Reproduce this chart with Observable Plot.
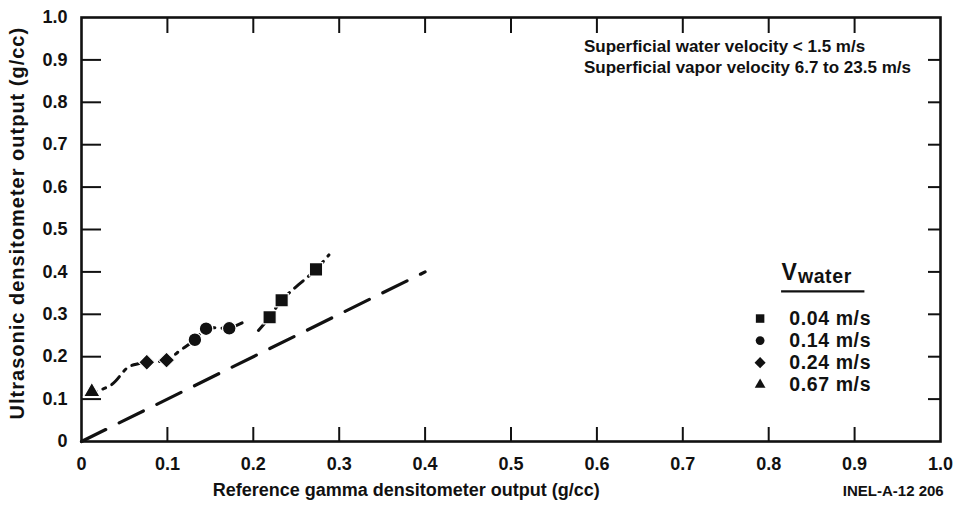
<!DOCTYPE html>
<html>
<head>
<meta charset="utf-8">
<script src="https://cdn.jsdelivr.net/npm/d3@7"></script>
<script src="https://cdn.jsdelivr.net/npm/@observablehq/plot@0.6"></script>
<style>
  html, body { margin: 0; padding: 0; background: #fff; }
  svg { display: block; }
  .spaced text { letter-spacing: 1px; }
  .spaced2 text { letter-spacing: 0.6px; }
</style>
</head>
<body>
<div id="chart"></div>
<script>
// ---- data ----
const xTicks = [0, 0.1, 0.2, 0.3, 0.4, 0.5, 0.6, 0.7, 0.8, 0.9, 1.0];
const yTicks = [0, 0.1, 0.2, 0.3, 0.4, 0.5, 0.6, 0.7, 0.8, 0.9, 1.0];

const seriesNames = ["0.04 m/s", "0.14 m/s", "0.24 m/s", "0.67 m/s"];
const seriesSymbols = ["square", "circle", "diamond2", "triangle"];

const sq_x = [0.219, 0.233, 0.273];
const sq_y = [0.293, 0.333, 0.406];
const ci_x = [0.132, 0.145, 0.172];
const ci_y = [0.240, 0.266, 0.267];
const di_x = [0.076, 0.099];
const di_y = [0.187, 0.192];
const tr_x = [0.012];
const tr_y = [0.117];

// fitted dash-dot curves
const fitLow_x = [0.005, 0.035, 0.055, 0.076, 0.099, 0.115, 0.132, 0.145, 0.172, 0.19];
const fitLow_y = [0.110, 0.134, 0.176, 0.187, 0.192, 0.215, 0.240, 0.266, 0.268, 0.283];
const fitHigh_x = [0.206, 0.219, 0.233, 0.273, 0.288];
const fitHigh_y = [0.262, 0.293, 0.333, 0.406, 0.440];

// reference line y = x
const ref_x = [0, 0.4];
const ref_y = [0, 0.4];

const noteLines = ["Superficial water velocity < 1.5 m/s", "Superficial vapor velocity 6.7 to 23.5 m/s"];
const xLabel = "Reference gamma densitometer output (g/cc)";
const yLabel = "Ultrasonic densitometer output (g/cc)";
const figId = "INEL-A-12 206";

// ---- build ----
const symR = {square: 7.5, circle: 6.8, diamond2: 7.3, triangle: 6.2};
const legR = {square: 4.8, circle: 4.4, diamond2: 5, triangle: 4};
const pts = [];
[[sq_x, sq_y], [ci_x, ci_y], [di_x, di_y], [tr_x, tr_y]].forEach(([xs, ys], i) => {
  xs.forEach((x, j) => pts.push({x, y: ys[j], s: seriesSymbols[i]}));
});
const fitLow = fitLow_x.map((x, i) => ({x, y: fitLow_y[i]}));
const fitHigh = fitHigh_x.map((x, i) => ({x, y: fitHigh_y[i]}));
const refLine = ref_x.map((x, i) => ({x, y: ref_y[i]}));
const legend = seriesNames.map((n, i) => ({name: n, s: seriesSymbols[i], i}));

const W = 954, H = 510;
const mL = 81, mR = 14, mT = 17, mB = 69;
const innerH = H - mT - mB;
const innerW = W - mL - mR;
const fmt = d => d === 0 ? "0" : d.toFixed(1);
const FONT = "'Liberation Sans', Arial, Helvetica, sans-serif";
const INK = "#111";

const plot = Plot.plot({
  width: W, height: H,
  marginLeft: mL, marginRight: mR, marginTop: mT, marginBottom: mB,
  style: {fontFamily: FONT, fontSize: "18px", fontWeight: "bold", color: INK, background: "#fff"},
  x: {domain: [0, 1]},
  y: {domain: [0, 1]},
  symbol: {domain: seriesSymbols, range: seriesSymbols},
  r: {type: "identity"},
  marks: [
    Plot.axisX(xTicks, {tickSize: 0, tickPadding: 16, tickFormat: fmt, label: null, fontSize: 18, fontWeight: "bold"}),
    Plot.axisY(yTicks, {tickSize: 0, tickPadding: 14, tickFormat: fmt, label: null, fontSize: 18, fontWeight: "bold"}),
    // inward ticks
    Plot.ruleX(xTicks.slice(1, -1), {x: d => d, insetTop: innerH - 14, stroke: INK, strokeWidth: 2}),
    Plot.ruleX(xTicks.slice(1, -1), {x: d => d, insetBottom: innerH - 16, stroke: INK, strokeWidth: 2}),
    Plot.ruleY(yTicks.slice(1, -1), {y: d => d, insetRight: innerW - 20, stroke: INK, strokeWidth: 2}),
    Plot.ruleY(yTicks.slice(1, -1), {y: d => d, insetLeft: innerW - 12, stroke: INK, strokeWidth: 2}),
    Plot.frame({stroke: INK, strokeWidth: 2.6}),
    // reference dashed line
    Plot.line(refLine, {x: "x", y: "y", stroke: INK, strokeWidth: 3.2, strokeDasharray: "27,15"}),
    // fitted dash-dot curves
    Plot.line(fitLow, {x: "x", y: "y", stroke: INK, strokeWidth: 3, strokeDasharray: "11,7,3,7", curve: "catmull-rom"}),
    Plot.line(fitHigh, {x: "x", y: "y", stroke: INK, strokeWidth: 3, strokeDasharray: "11,7,3,7", curve: "catmull-rom"}),
    // data
    Plot.dot(pts, {x: "x", y: "y", symbol: "s", r: d => symR[d.s], fill: INK, stroke: "white", strokeWidth: 1.2}),
    // notes
    Plot.text(noteLines, {x: 0.585, y: (d, i) => 0.932 - i * 0.05, text: d => d, textAnchor: "start", fontSize: 17, fontWeight: "bold", fill: INK}),
    // legend
    Plot.text(["V"], {x: 0.815, y: 0.399, text: d => d, textAnchor: "start", fontSize: 23, fontWeight: "bold", fill: INK}),
    Plot.text(["water"], {x: 0.834, y: 0.389, text: d => d, textAnchor: "start", fontSize: 19.5, fontWeight: "bold", fill: INK, className: "spaced2"}),
    Plot.ruleY([0.354], {x1: 0.815, x2: 0.912, stroke: INK, strokeWidth: 2.4}),
    Plot.dot(legend, {x: 0.790, y: d => 0.290 - d.i * 0.052, symbol: "s", r: d => legR[d.s], fill: INK}),
    Plot.text(legend, {x: 0.824, y: d => 0.290 - d.i * 0.052, text: "name", textAnchor: "start", fontSize: 19.5, fontWeight: "bold", fill: INK, className: "spaced2"}),
    // axis titles
    Plot.text([xLabel], {frameAnchor: "bottom", x: 0.378, dy: 54, text: d => d, fontSize: 18, fontWeight: "bold", fill: INK}),
    Plot.text([figId], {frameAnchor: "bottom", x: 0.945, dy: 54, text: d => d, fontSize: 15, fontWeight: "bold", fill: INK}),
    Plot.text([yLabel], {frameAnchor: "left", y: 0.515, dx: -64, rotate: -90, textAnchor: "middle", text: d => d, fontSize: 20, fontWeight: "bold", fill: INK, className: "spaced"})
  ]
});
document.getElementById("chart").appendChild(plot);
</script>
</body>
</html>
